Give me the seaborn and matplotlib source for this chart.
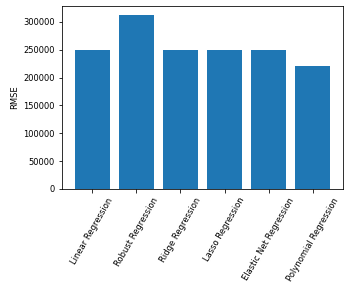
import matplotlib
matplotlib.use("Agg")
import matplotlib.pyplot as plt
import seaborn as sns
import pandas as pd

models = ["Linear Regression", "Robust Regression", "Ridge Regression",
          "Lasso Regression", "Elastic Net Regression", "Polynomial Regression"]
rmse = [250500, 313000, 250500, 250500, 250500, 221000]

df = pd.DataFrame({"model": models, "RMSE": rmse})

fs = 8.4
fig = plt.figure(figsize=(350 / 72, 288 / 72), dpi=72)
ax = fig.add_axes([62 / 350, 99 / 288, 281 / 350, 183 / 288])
sns.barplot(data=df, x="model", y="RMSE", color="#1f77b4", saturation=1,
            width=0.8, ax=ax, errorbar=None)
n = len(models)
pad = 0.05 * (n - 0.2)
ax.set_xlim(-0.4 - pad, n - 0.6 + pad)
ax.set_ylim(0, max(rmse) * 1.05)
ax.set_xlabel("")
ax.set_ylabel("RMSE", fontsize=fs)
ax.tick_params(labelsize=fs)
plt.setp(ax.get_xticklabels(), rotation=60, ha="center")
fig.savefig("out.png", dpi=72)
